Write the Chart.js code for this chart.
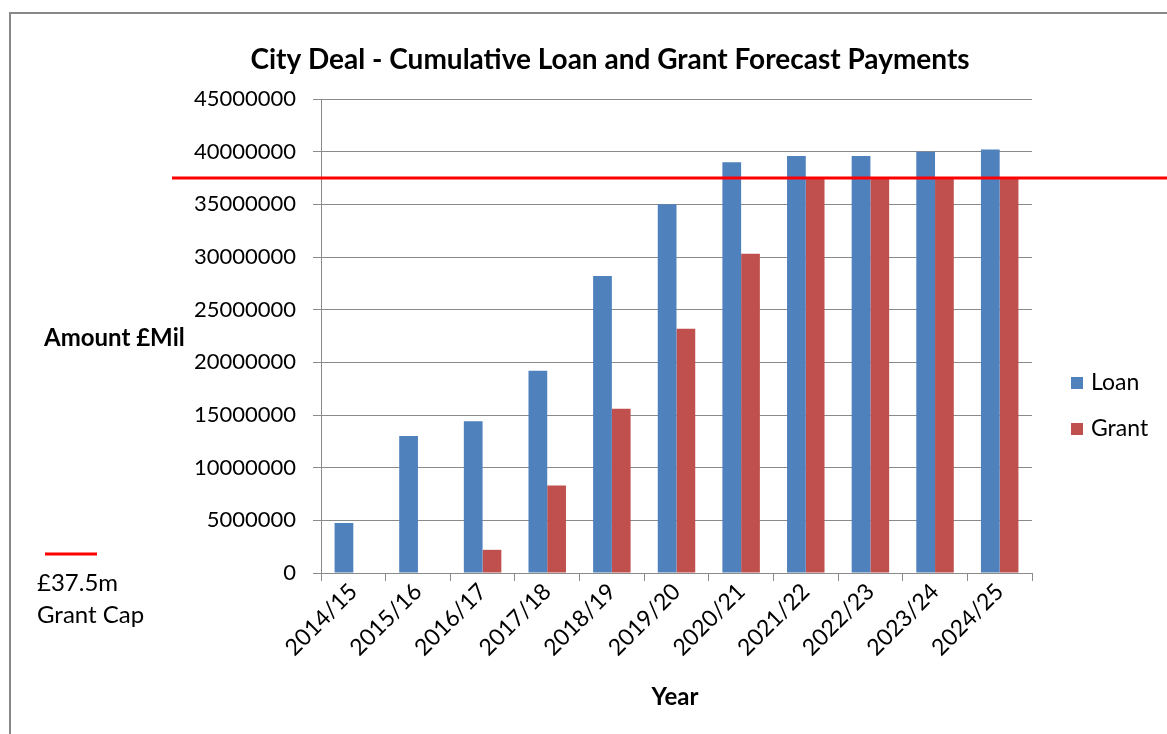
<!DOCTYPE html>
<html>
<head>
<meta charset="utf-8">
<script src="https://cdn.jsdelivr.net/npm/chart.js@4/dist/chart.umd.min.js"></script>
<style>
  body { margin: 0; background: #fff; }
  #frame { position: absolute; left: 9px; top: 12px; width: 1170px; height: 740px; border: 2px solid #888; box-sizing: border-box; }
  #grafico { position: absolute; left: 0; top: 0; }
</style>
</head>
<body>
<div id="frame"></div>
<canvas id="grafico" width="1167" height="734"></canvas>
<script>
// Dados
const anos = ["2014/15", "2015/16", "2016/17", "2017/18", "2018/19", "2019/20", "2020/21", "2021/22", "2022/23", "2023/24", "2024/25"];
const emprestimo = [4750000, 13000000, 14400000, 19200000, 28200000, 35000000, 39000000, 39600000, 39600000, 40000000, 40200000];
const subsidio = [0, 0, 2200000, 8300000, 15600000, 23200000, 30300000, 37500000, 37500000, 37500000, 37500000];
const limiteSubsidio = 37500000;
const ticksY = [0, 5000000, 10000000, 15000000, 20000000, 25000000, 30000000, 35000000, 40000000, 45000000];

const fonte = "Lato, 'Open Sans', sans-serif";
const corLoan = "#4F81BD";
const corGrant = "#C0504D";
const corGrade = "#8a8a8a";

// Textos e linha do limite
const extras = {
  id: "extras",
  afterDatasetsDraw(chart) {
    const ctx = chart.ctx;
    const y = chart.scales.y.getPixelForValue(limiteSubsidio);
    ctx.save();
    ctx.strokeStyle = "#ff0000";
    ctx.lineWidth = 3;
    ctx.beginPath();
    ctx.moveTo(172, y);
    ctx.lineTo(chart.width, y);
    ctx.stroke();
    ctx.restore();
  },
  afterDraw(chart) {
    const ctx = chart.ctx;
    ctx.save();
    ctx.fillStyle = "#000";
    ctx.textBaseline = "middle";
    ctx.textAlign = "center";
    ctx.font = "bold 28px " + fonte;
    ctx.fillText("City Deal - Cumulative Loan and Grant Forecast Payments", 610, 60);
    ctx.font = "bold 24px " + fonte;
    ctx.fillText("Year", 675, 697);
    ctx.textAlign = "left";
    ctx.fillText("Amount £Mil", 44, 338);

    // legenda
    ctx.font = "23px " + fonte;
    ctx.fillStyle = corLoan;
    ctx.fillRect(1071, 377, 12, 12);
    ctx.fillStyle = corGrant;
    ctx.fillRect(1071, 423, 12, 12);
    ctx.fillStyle = "#000";
    ctx.fillText("Loan", 1091, 383);
    ctx.fillText("Grant", 1091, 429);

    // legenda do limite
    ctx.font = "24px " + fonte;
    ctx.strokeStyle = "#ff0000";
    ctx.lineWidth = 3;
    ctx.beginPath();
    ctx.moveTo(45, 554);
    ctx.lineTo(97, 554);
    ctx.stroke();
    ctx.fillText("£37.5m", 37, 583);
    ctx.fillText("Grant Cap", 37, 615);
    ctx.restore();
  }
};

new Chart(document.getElementById("grafico"), {
  type: "bar",
  data: {
    labels: anos,
    datasets: [
      { label: "Loan", data: emprestimo, backgroundColor: corLoan },
      { label: "Grant", data: subsidio, backgroundColor: corGrant }
    ]
  },
  options: {
    responsive: false,
    animation: false,
    devicePixelRatio: 1,
    layout: { padding: { left: 191, top: 99, right: 135, bottom: 0 } },
    datasets: { bar: { categoryPercentage: 0.58, barPercentage: 1 } },
    plugins: {
      legend: { display: false },
      title: { display: false },
      tooltip: { enabled: false }
    },
    scales: {
      x: {
        afterFit: s => { s.height = 161; },
        grid: { drawOnChartArea: false, color: corGrade, tickLength: 8, offset: true },
        border: { color: corGrade },
        ticks: {
          color: "#000",
          font: { family: fonte, size: 23 },
          minRotation: 45,
          maxRotation: 45,
          padding: -3
        }
      },
      y: {
        min: 0,
        max: 45000000,
        afterFit: s => { s.width = 130; },
        afterBuildTicks: s => { s.ticks = ticksY.map(v => ({ value: v })); },
        grid: { color: corGrade, tickLength: 8 },
        border: { color: corGrade },
        ticks: {
          color: "#000",
          font: { family: fonte, size: 22 },
          padding: 17,
          callback: v => String(v)
        }
      }
    }
  },
  plugins: [extras]
});
</script>
</body>
</html>
